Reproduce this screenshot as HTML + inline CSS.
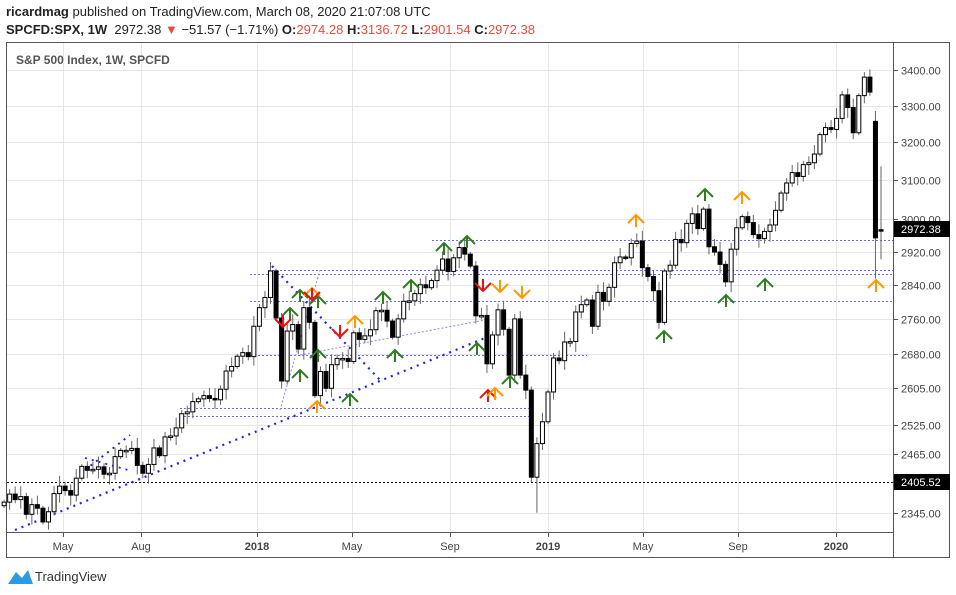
<!DOCTYPE html>
<html><head><meta charset="utf-8"><style>
body{margin:0;background:#fff;width:956px;height:595px;overflow:hidden;font-family:"Liberation Sans",sans-serif}
#t1{position:absolute;left:6px;top:4px;font-size:13px;color:#222}
#t2{position:absolute;left:6px;top:22px;font-size:13px;color:#222}
.r{color:#e74c3c}
</style></head><body>
<div id="t1"><b>ricardmag</b> published on TradingView.com, March 08, 2020 21:07:08 UTC</div>
<div id="t2"><b>SPCFD:SPX, 1W</b>&nbsp; 2972.38 <span class="r">▼</span> −51.57 (−1.71%) <b>O:</b><span class="r">2974.28</span> <b>H:</b><span class="r">3136.72</span> <b>L:</b><span class="r">2901.54</span> <b>C:</b><span class="r">2972.38</span></div>
<svg id="s" width="956" height="595" style="position:absolute;left:0;top:0" xmlns="http://www.w3.org/2000/svg"></svg>
<script>
const s=document.getElementById('s');let h='';
const Y=p=>9771-1193*Math.log(p);
h+='<rect x="6.5" y="42.5" width="943" height="515" fill="none" stroke="#555"/>';
h+='<line x1="893.5" y1="42" x2="893.5" y2="558" stroke="#555"/>';
h+='<line x1="6" y1="532.5" x2="893" y2="532.5" stroke="#555"/>';
const lv=[3400,3300,3200,3100,3000,2920,2840,2760,2680,2605,2525,2465,2345];
lv.forEach(p=>{const y=Math.round(Y(p))+.5;h+=`<line x1="7" y1="${y}" x2="893" y2="${y}" stroke="#e6e6e6"/><line x1="893" y1="${y}" x2="898" y2="${y}" stroke="#555"/><text x="901" y="${y+4}" font-size="11" fill="#444">${p.toFixed(2)}</text>`});
const xl=[[63,'May'],[141,'Aug'],[257,'2018',1],[352,'May'],[450,'Sep'],[548,'2019',1],[643,'May'],[738,'Sep'],[836,'2020',1]];
xl.forEach(a=>{h+=`<line x1="${a[0]+.5}" y1="43" x2="${a[0]+.5}" y2="532" stroke="#e6e6e6"/><line x1="${a[0]+.5}" y1="532" x2="${a[0]+.5}" y2="537" stroke="#555"/><text x="${a[0]}" y="550" font-size="11" text-anchor="middle" fill="#444" ${a[2]?'font-weight="bold"':''}>${a[1]}</text>`});
h+='<text x="16" y="64" font-size="12" font-weight="bold" fill="#555">S&amp;P 500 Index, 1W, SPCFD</text>';
const dl=(x1,y1,x2,y2,c,w,d)=>h+=`<line x1="${x1}" y1="${y1}" x2="${x2}" y2="${y2}" stroke="${c||'#6a6aff'}" stroke-width="${w||1}" stroke-dasharray="${d||'2,2'}"/>`;
dl(432,240.5,893,240.5);dl(268,270.5,893,270.5);dl(250,274.5,893,274.5);dl(250,301.5,893,301.5);dl(250,355.5,587,355.5);
dl(180,408.5,530,408.5);dl(180,416.5,530,416.5);dl(7,482.5,893,482.5,'#000');
dl(15,530,485,338,'#2222ee',2.2,'2,5');dl(272,266,380,380,'#2222ee',2.2,'2,5');
dl(85,470,130,435,'#2222ee',2,'2,5');dl(85,458,128,470,'#2222ee',1.8,'2,5');
dl(280,410,320,270,'#8888ee',1,'2,2');dl(300,355,485,320,'#8888ee',1,'2,2');
const C=[2367,2383,2372,2378,2343,2362,2355,2328,2348,2384,2399,2390,2381,2415,2439,2431,2433,2438,2423,2425,2459,2472,2472,2476,2441,2425,2443,2477,2461,2500,2502,2519,2549,2553,2575,2581,2588,2582,2579,2602,2642,2652,2675,2683,2674,
2743,2786,2810,2873,2762,2620,2732,2747,2691,2786,2752,2588,2641,2604,2656,2670,2670,2663,2728,2713,2721,2735,2779,2780,2755,2718,2760,2801,2802,2819,2840,2833,2850,2875,2902,2872,2905,2930,2914,2885,2767,2768,2658,2723,2781,2736,2633,2760,2633,2600,2417,2486,
2532,2596,2671,2665,2707,2708,2776,2793,2804,2743,2822,2801,2834,2893,2907,2905,2940,2946,2881,2860,2826,2752,2873,2887,2950,2942,2990,3014,2977,3026,2932,2919,2889,2847,2926,2979,3007,2992,2962,2952,2970,2986,3023,3067,3093,3120,3110,3141,3146,3169,3221,3240,
3235,3265,3330,3295,3226,3328,3380,3338,2954,2972];
const n=C.length;
for(let i=0;i<n;i++){
 const x=881-(n-1-i)*5.55;let o=i?C[i-1]:2360,c=C[i];
 if(i==n-2)o=3257; if(i==n-1)o=2974.28;
 let hi=Math.max(o,c)*(1+0.002+((i*37)%7)/900),lo=Math.min(o,c)*(1-0.002-((i*53)%7)/900);
 if(i==n-1){hi=3136.72;lo=2901.54} if(i==n-2)lo=2855; if(i==96)lo=2346;
 const yt=Y(Math.max(o,c)),yb=Y(Math.min(o,c));const bh=Math.max(1.5,yb-yt);
 h+=`<line x1="${x}" y1="${Y(hi)}" x2="${x}" y2="${Y(lo)}" stroke="#666"/>`;
 h+=`<rect x="${x-2}" y="${yt}" width="4" height="${bh}" fill="${c>=o?'#fff':'#000'}" stroke="#000" stroke-width="1"/>`;
}
const up=(x,y,c)=>h+=`<path d="M${x-8} ${y+8}L${x} ${y}L${x+8} ${y+8}M${x} ${y}V${y+12}" fill="none" stroke="${c}" stroke-width="2"/>`;
const dn=(x,y,c)=>h+=`<path d="M${x-8} ${y-8}L${x} ${y}L${x+8} ${y-8}M${x} ${y}V${y-12}" fill="none" stroke="${c}" stroke-width="2"/>`;
const G='#2e7d1e',O='#ff9800',R='#f01010';
[[300,290],[290,308],[300,370],[318,350],[350,394],[383,292],[395,350],[411,280],[444,243],[467,236],[477,343],[510,376],[664,331],[705,189],[726,295],[765,279],[318,296]].forEach(a=>up(a[0],a[1],G));
[[312,288],[355,316],[317,401],[636,215],[742,192],[876,280]].forEach(a=>up(a[0],a[1],O));
[[500,292],[522,298]].forEach(a=>dn(a[0],a[1],O));
[[283,327],[312,300],[340,337],[483,291]].forEach(a=>dn(a[0],a[1],R));
up(488,390,R);up(495,388,O);
h+='<rect x="894" y="221" width="56" height="16" fill="#000"/><text x="901" y="233" font-size="11" fill="#fff">2972.38</text>';
h+='<rect x="894" y="474" width="56" height="16" fill="#000"/><text x="901" y="486" font-size="11" fill="#fff">2405.52</text>';
h+='<path d="M8 584 L16 572 L22 578 L28 570 L33 584 Z" fill="#2e9ae6"/><text x="35" y="581" font-size="13" fill="#333">TradingView</text>';
s.innerHTML=h;
</script>
</body></html>
